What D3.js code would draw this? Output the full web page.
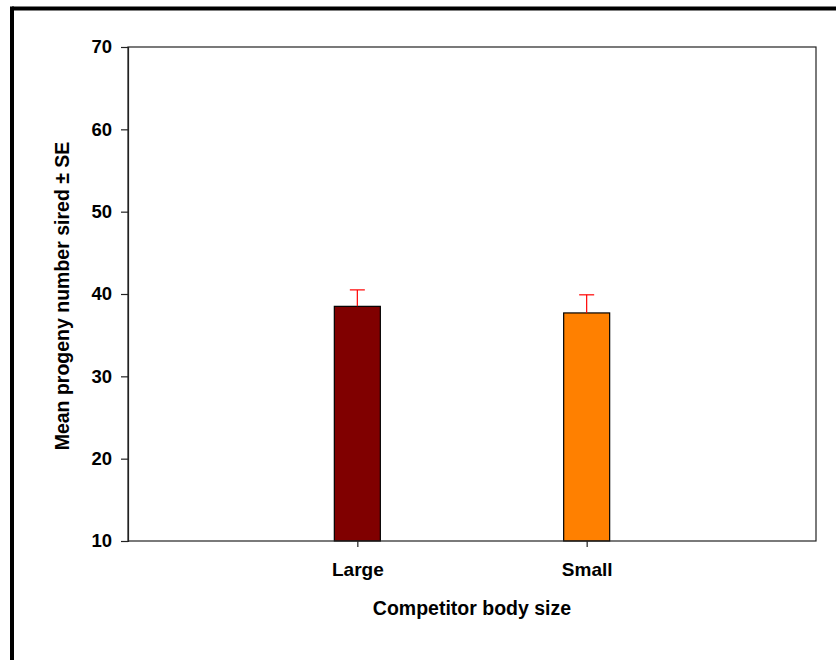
<!DOCTYPE html>
<html>
<head>
<meta charset="utf-8">
<script src="https://cdn.jsdelivr.net/npm/d3@7"></script>
<style>
  html, body { margin: 0; padding: 0; background: #fff; }
  svg { display: block; }
  text { font-family: "Liberation Sans", Arial, sans-serif; font-weight: bold; fill: #000; }
</style>
</head>
<body>
<svg id="chart" width="836" height="660"></svg>
<script>
// Mean progeny sired by competitor body size, with standard errors
const categories = ["Large", "Small"];
const means = [38.5, 37.7];
const errors = [2.0, 2.2];
const barColors = ["#800000", "#FF8000"];
const yTicks = [10, 20, 30, 40, 50, 60, 70];

const svg = d3.select("#chart");
const W = 836, H = 660;

// Page frame (only top and left edges fall inside the page)
svg.append("line").attr("x1", 12).attr("x2", W + 10).attr("y1", 8.5).attr("y2", 8.5)
  .attr("stroke", "#000").attr("stroke-width", 4);
svg.append("line").attr("x1", 12).attr("x2", 12).attr("y1", 6.5).attr("y2", H + 10)
  .attr("stroke", "#000").attr("stroke-width", 4);

const plot = { left: 128, top: 47, right: 816, bottom: 541 };

// Bars sit at positions 1 and 2 on a 0..3 axis
const x = d3.scaleLinear().domain([0, categories.length + 1]).range([plot.left, plot.right]);
const y = d3.scaleLinear().domain([10, 70]).range([plot.bottom, plot.top]);
const barWidth = 46;
const capWidth = 15;

const g = svg.append("g");

// Bars
g.selectAll("rect.bar").data(categories).join("rect")
  .attr("class", "bar")
  .attr("x", (d, i) => x(i + 1) - barWidth / 2)
  .attr("y", (d, i) => y(means[i]))
  .attr("width", barWidth)
  .attr("height", (d, i) => y(10) - y(means[i]))
  .attr("fill", (d, i) => barColors[i])
  .attr("stroke", "#000")
  .attr("stroke-width", 1.2);

// Upper error bars
g.selectAll("line.err").data(categories).join("line")
  .attr("class", "err")
  .attr("x1", (d, i) => x(i + 1)).attr("x2", (d, i) => x(i + 1))
  .attr("y1", (d, i) => y(means[i]))
  .attr("y2", (d, i) => y(means[i] + errors[i]))
  .attr("stroke", "#FF0000").attr("stroke-width", 1.2);
g.selectAll("line.cap").data(categories).join("line")
  .attr("class", "cap")
  .attr("x1", (d, i) => x(i + 1) - capWidth / 2).attr("x2", (d, i) => x(i + 1) + capWidth / 2)
  .attr("y1", (d, i) => y(means[i] + errors[i]))
  .attr("y2", (d, i) => y(means[i] + errors[i]))
  .attr("stroke", "#FF0000").attr("stroke-width", 1.2);

// Plot frame
g.append("rect")
  .attr("x", plot.left).attr("y", plot.top)
  .attr("width", plot.right - plot.left).attr("height", plot.bottom - plot.top)
  .attr("fill", "none").attr("stroke", "#222").attr("stroke-width", 1.2);

const labelFont = "Liberation Sans, Arial, sans-serif";

// Y axis
const yAxis = d3.axisLeft(y).tickValues(yTicks).tickSize(7).tickPadding(9).tickFormat(d3.format("d"));
const ya = svg.append("g").attr("transform", `translate(${plot.left},0)`).call(yAxis);
ya.select(".domain").attr("stroke", "#222").attr("stroke-width", 1.2);
ya.selectAll(".tick line").attr("stroke", "#222").attr("stroke-width", 1.2);
ya.selectAll(".tick text").style("font-size", "18.5px").style("font-family", labelFont).style("font-weight", "bold").attr("fill", "#000");

// X axis
const xAxis = d3.axisBottom(x).tickValues(categories.map((d, i) => i + 1))
  .tickFormat((d) => categories[d - 1]).tickSize(6).tickPadding(16);
const xa = svg.append("g").attr("transform", `translate(0,${plot.bottom})`).call(xAxis);
xa.select(".domain").remove();
xa.selectAll(".tick line").attr("stroke", "#222").attr("stroke-width", 1.2);
xa.selectAll(".tick text").style("font-size", "19px").style("font-family", labelFont).style("font-weight", "bold").attr("fill", "#000");

// Axis titles
svg.append("text")
  .attr("x", 472).attr("y", 615)
  .attr("text-anchor", "middle").style("font-size", "19.5px")
  .text("Competitor body size");
svg.append("text")
  .attr("transform", `translate(69,296) rotate(-90)`)
  .attr("text-anchor", "middle").style("font-size", "19.5px")
  .text("Mean progeny number sired ± SE");
</script>
</body>
</html>
